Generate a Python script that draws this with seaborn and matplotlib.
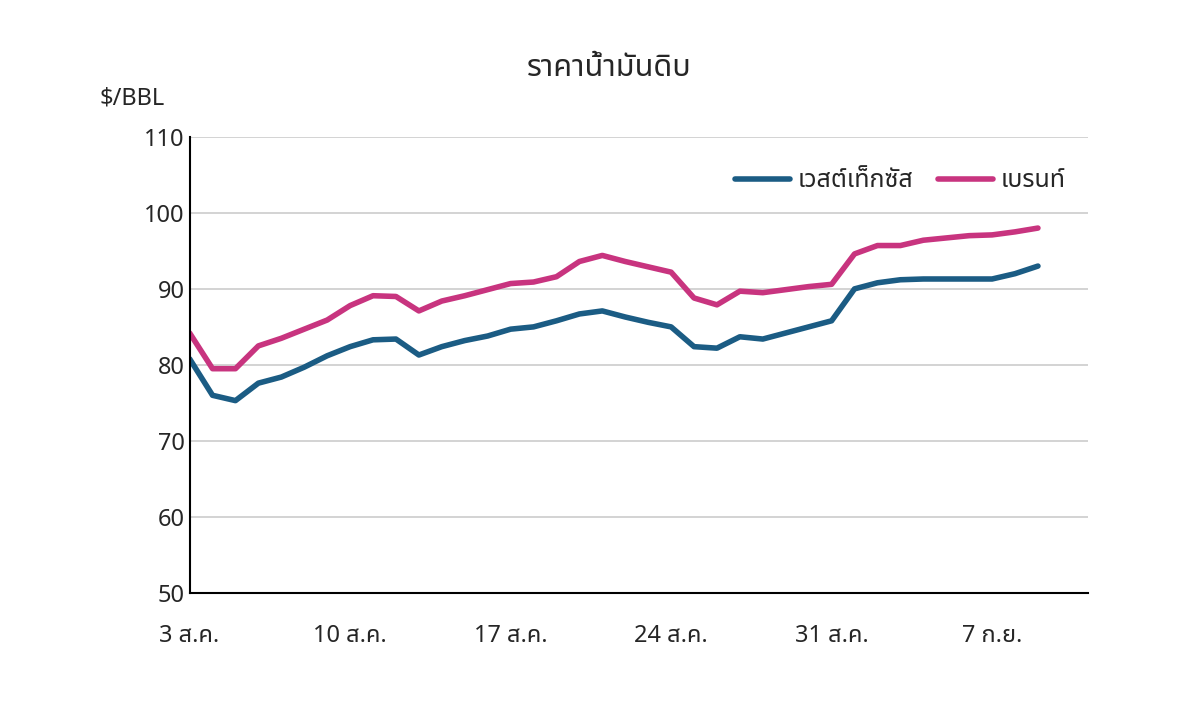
import numpy as np
import pandas as pd
import matplotlib
matplotlib.use("Agg")
import matplotlib.pyplot as plt
import seaborn as sns

# ---------------- data ----------------
days = list(range(0, 38))  # day 0 = 3 Aug

wti = [80.8, 76.0, 75.3, 77.6, 78.4, 79.7, 81.2, 82.4, 83.3, 83.4,
       81.3, 82.4, 83.2, 83.8, 84.7, 85.0, 85.8, 86.7, 87.1, 86.3,
       85.6, 85.0, 82.4, 82.2, 83.7, 83.4, 84.2, 85.0, 85.8, 90.0,
       90.8, 91.2, 91.3, 91.3, 91.3, 91.3, 92.0, 93.0]

brent = [84.2, 79.5, 79.5, 82.5, 83.5, 84.7, 85.9, 87.8, 89.1, 89.0,
         87.1, 88.4, 89.1, 89.9, 90.7, 90.9, 91.6, 93.6, 94.4, 93.6,
         92.9, 92.2, 88.8, 87.9, 89.7, 89.5, 89.9, 90.3, 90.6, 94.6,
         95.7, 95.7, 96.4, 96.7, 97.0, 97.1, 97.5, 98.0]

tick_pos = [0, 7, 14, 21, 28, 35]
tick_labels = ["3 ส.ค.", "10 ส.ค.", "17 ส.ค.", "24 ส.ค.", "31 ส.ค.", "7 ก.ย."]

names = ["เวสต์เท็กซัส", "เบรนท์"]
colors = ["#1b5c84", "#c8347f"]

df = pd.DataFrame({"day": days * 2,
                   "price": wti + brent,
                   "series": [names[0]] * len(days) + [names[1]] * len(days)})

# ---------------- plot ----------------
sns.set_style("white")
plt.rcParams["font.family"] = ["Noto Sans Thai", "Loma", "Garuda", "Tlwg Typo",
                               "Norasi", "DejaVu Sans"]
plt.rcParams["font.weight"] = "bold"

fig = plt.figure(figsize=(12, 7.24), dpi=100)
ax = fig.add_axes([0.158, 0.181, 0.749, 0.630])

sns.lineplot(data=df, x="day", y="price", hue="series",
             palette=colors, linewidth=4, ax=ax)

ax.set_xlim(0, 39.2)
ax.set_ylim(50, 110)
ax.set_yticks(range(50, 111, 10))
ax.set_xticks(tick_pos)
ax.set_xticklabels(tick_labels, fontweight="bold")
for lab in ax.get_yticklabels():
    lab.set_fontweight("bold")
ax.tick_params(axis="both", labelsize=17, length=6, direction="in")
ax.tick_params(axis="x", pad=22, direction="in", length=7)
ax.grid(axis="y", color="#cccccc", linewidth=1.2)
ax.set_axisbelow(True)
for s in ["top", "right"]:
    ax.spines[s].set_visible(False)
for s in ["left", "bottom"]:
    ax.spines[s].set_color("black")
    ax.spines[s].set_linewidth(1.5)
ax.set_xlabel("")
ax.set_ylabel("")

ax.legend(loc="upper right", bbox_to_anchor=(1.0, 0.98), ncol=2, frameon=False,
          fontsize=18, handlelength=2.2, columnspacing=1.0, handletextpad=0.3,
          prop={"size": 18, "weight": "bold"})

fig.text(0.508, 0.895, "ราคาน้ำมันดิบ", ha="center", fontsize=22, fontweight="bold")
fig.text(0.083, 0.855, "$/BBL", fontsize=17, fontweight="bold")

fig.savefig("out.png", dpi=100)
